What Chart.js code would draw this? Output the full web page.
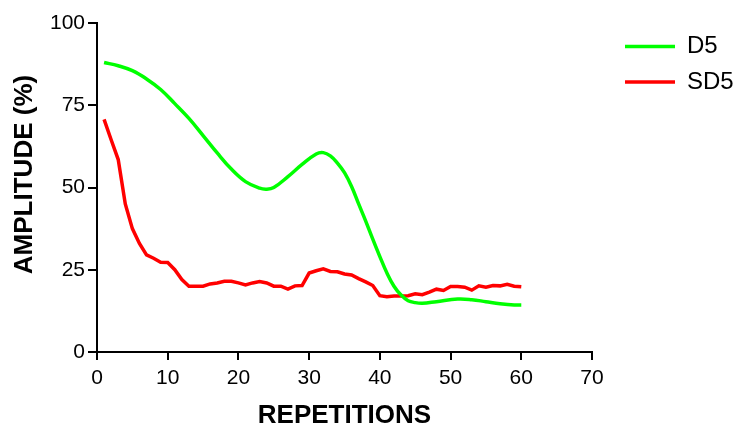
<!DOCTYPE html>
<html>
<head>
<meta charset="utf-8">
<script src="https://cdn.jsdelivr.net/npm/chart.js@4.4.1/dist/chart.umd.min.js"></script>
<style>
	html, body { margin: 0; padding: 0; background: #fff; }
	#wrap { width: 736px; height: 431px; }
</style>
</head>
<body>
<div id="wrap"><canvas id="amplitude" width="736" height="431"></canvas></div>
<script>
// D5 (green, smooth curve)
var d5Reps = [1, 3, 5, 7, 9, 11, 13, 15, 17, 19, 21, 23, 24, 25, 27, 29, 31, 32, 33, 34, 35, 36, 37, 38, 39, 40, 41, 42, 43, 44, 45, 46, 48, 51, 53, 55, 57, 59, 60];
var d5Values = [88, 87, 85.5, 83, 79.8, 75.5, 71, 65.8, 60.5, 55.6, 51.8, 49.8, 49.5, 50, 53.3, 57, 60.2, 60.6, 59.6, 57.4, 54.5, 50.3, 45, 39.8, 34.3, 29, 24, 20, 17.3, 15.6, 15, 14.8, 15.3, 16.1, 15.9, 15.3, 14.7, 14.3, 14.3];

// SD5 (red, one value per repetition)
var sd5Reps = [1, 2, 3, 4, 5, 6, 7, 8, 9, 10, 11, 12, 13, 14, 15, 16, 17, 18, 19, 20,
	21, 22, 23, 24, 25, 26, 27, 28, 29, 30, 31, 32, 33, 34, 35, 36, 37, 38, 39, 40,
	41, 42, 43, 44, 45, 46, 47, 48, 49, 50, 51, 52, 53, 54, 55, 56, 57, 58, 59, 60];
var sd5Values = [70.7, 64.5, 58.5, 45, 37.5, 33, 29.5, 28.5, 27.3, 27.2, 25, 22, 20, 20, 20, 20.7, 21, 21.5, 21.5, 21,
	20.4, 21, 21.4, 21, 20, 20, 19.1, 20.1, 20.2, 24, 24.7, 25.3, 24.5, 24.4, 23.7, 23.4, 22.3, 21.3, 20.2, 17.1,
	16.8, 17, 17, 17.1, 17.7, 17.4, 18.2, 19.1, 18.7, 19.9, 19.9, 19.7, 18.8, 20.1, 19.7, 20.2, 20.1, 20.6, 20, 19.8];

var xTicks = [0, 10, 20, 30, 40, 50, 60, 70];
var yTicks = [0, 25, 50, 75, 100];

function toPoints(xs, ys) {
	var pts = [];
	for (var i = 0; i < xs.length; i++) {
		pts.push({ x: xs[i], y: ys[i] });
	}
	return pts;
}

var fontFamily = "'Liberation Sans', Arial, sans-serif";
var legendPad = 11.5;

// move the legend a bit away from the plot area (Chart.js glues it to the right edge of the plot)
var legendShift = {
	id: 'legendShift',
	afterLayout: function(chart) {
		var lg = chart.legend;
		var w = lg.right - lg.left;
		lg.left = chart.chartArea.right + 33 - legendPad;
		lg.right = lg.left + w;
	}
};

window.onload = function() {
	var ctx = document.getElementById("amplitude").getContext("2d");
	var amplitude = new Chart(ctx, {
		type: 'line',
		data: {
			datasets: [{
				label: 'D5',
				data: toPoints(d5Reps, d5Values),
				borderColor: '#00ff00',
				backgroundColor: '#00ff00',
				borderWidth: 3.5,
				pointRadius: 0,
				tension: 0.4,
				fill: false
			}, {
				label: 'SD5',
				data: toPoints(sd5Reps, sd5Values),
				borderColor: '#ff0000',
				backgroundColor: '#ff0000',
				borderWidth: 3.5,
				pointRadius: 0,
				tension: 0,
				fill: false
			}]
		},
		options: {
			responsive: false,
			animation: false,
			layout: { padding: 0 },
			plugins: {
				tooltip: { enabled: false },
				legend: {
					position: 'right',
					align: 'start',
					fullSize: false,
					labels: {
						usePointStyle: true,
						pointStyle: 'line',
						pointStyleWidth: 50,
						padding: legendPad,
						color: '#000',
						font: { family: fontFamily, size: 24 }
					}
				}
			},
			scales: {
				x: {
					type: 'linear',
					min: 0,
					max: 70,
					afterBuildTicks: function(scale) {
						scale.ticks = xTicks.map(function(v) { return { value: v }; });
					},
					afterFit: function(scale) {
						scale.height = 79;
						scale.paddingRight = 144;
					},
					border: { display: true, color: '#000', width: 2 },
					grid: { drawOnChartArea: false, drawTicks: true, tickLength: 8, color: '#000', lineWidth: 2 },
					ticks: { color: '#000', padding: 6, font: { family: fontFamily, size: 21 } },
					title: {
						display: true,
						text: 'REPETITIONS',
						color: '#000',
						padding: { top: 0, bottom: 0 },
						font: { family: fontFamily, size: 26, weight: 'bold' }
					}
				},
				y: {
					type: 'linear',
					min: 0,
					max: 100,
					afterBuildTicks: function(scale) {
						scale.ticks = yTicks.map(function(v) { return { value: v }; });
					},
					afterFit: function(scale) {
						scale.width = 97;
						scale.paddingTop = 23;
					},
					border: { display: true, color: '#000', width: 2 },
					grid: { drawOnChartArea: false, drawTicks: true, tickLength: 9, color: '#000', lineWidth: 2 },
					ticks: { color: '#000', padding: 3, font: { family: fontFamily, size: 21 } },
					title: {
						display: true,
						text: '\u2002\u2002AMPLITUDE (%)',
						color: '#000',
						padding: { top: 9, bottom: 0 },
						font: { family: fontFamily, size: 26, weight: 'bold' }
					}
				}
			}
		},
		plugins: [legendShift]
	});
};
</script>
</body>
</html>
